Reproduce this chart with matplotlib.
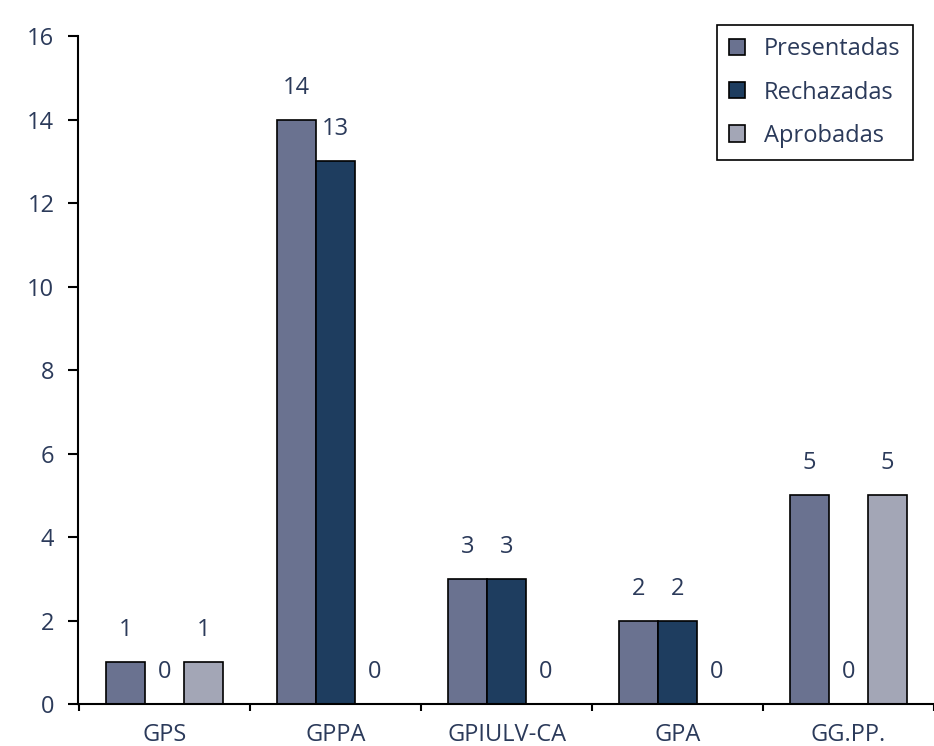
import matplotlib
matplotlib.use("Agg")
import matplotlib.pyplot as plt
import numpy as np

groups = ["GPS", "GPPA", "GPIULV-CA", "GPA", "GG.PP."]
series = ["Presentadas", "Rechazadas", "Aprobadas"]
presentadas = [1, 14, 3, 2, 5]
rechazadas = [0, 13, 3, 2, 0]
aprobadas = [1, 0, 0, 0, 5]

colors = ["#6a7290", "#1e3d5f", "#a3a6b6"]
text_color = "#2b3a5a"

plt.rcParams["font.family"] = ["Open Sans", "DejaVu Sans"]

fig = plt.figure(figsize=(9.34, 7.46), dpi=100)
ax = fig.add_axes([0.0835, 0.0563, 0.9165, 0.8954])

x = np.arange(len(groups))
width = 0.228
offsets = [-width, 0, width]
for vals, off, col, name in zip([presentadas, rechazadas, aprobadas], offsets, colors, series):
    bars = ax.bar(x + off, vals, width, color=col, edgecolor="black",
                  linewidth=1.2, label=name)
    for b, v in zip(bars, vals):
        ax.annotate(str(v), (b.get_x() + b.get_width() / 2, v),
                    xytext=(0, 23), textcoords="offset points",
                    ha="center", va="center", fontsize=17, color=text_color)

ax.set_xlim(-0.507, 4.42)
ax.set_ylim(0, 16)
ax.set_yticks(range(0, 17, 2))
ax.set_xticks(x)
ax.set_xticklabels(groups)
ax.set_xticks(np.arange(-0.5, 5, 1), minor=True)
ax.tick_params(axis="x", which="major", length=0, pad=14,
               labelsize=17, labelcolor=text_color)
ax.tick_params(axis="x", which="minor", length=5, width=1.5, direction="out")
ax.tick_params(axis="y", length=7, width=1.5, pad=10,
               labelsize=17, labelcolor=text_color)
ax.spines[["top", "right"]].set_visible(False)
ax.spines["left"].set_linewidth(1.5)
ax.spines["bottom"].set_linewidth(1.5)

leg = ax.legend(loc="upper right", bbox_to_anchor=(0.975, 1.016),
                fontsize=17, labelcolor=text_color, fancybox=False,
                edgecolor="black", framealpha=1, handlelength=0.68,
                handleheight=0.68, handletextpad=0.8, labelspacing=0.82,
                borderpad=0.5, borderaxespad=0)
leg.get_frame().set_linewidth(1.2)

fig.savefig("out.png", dpi=100)
